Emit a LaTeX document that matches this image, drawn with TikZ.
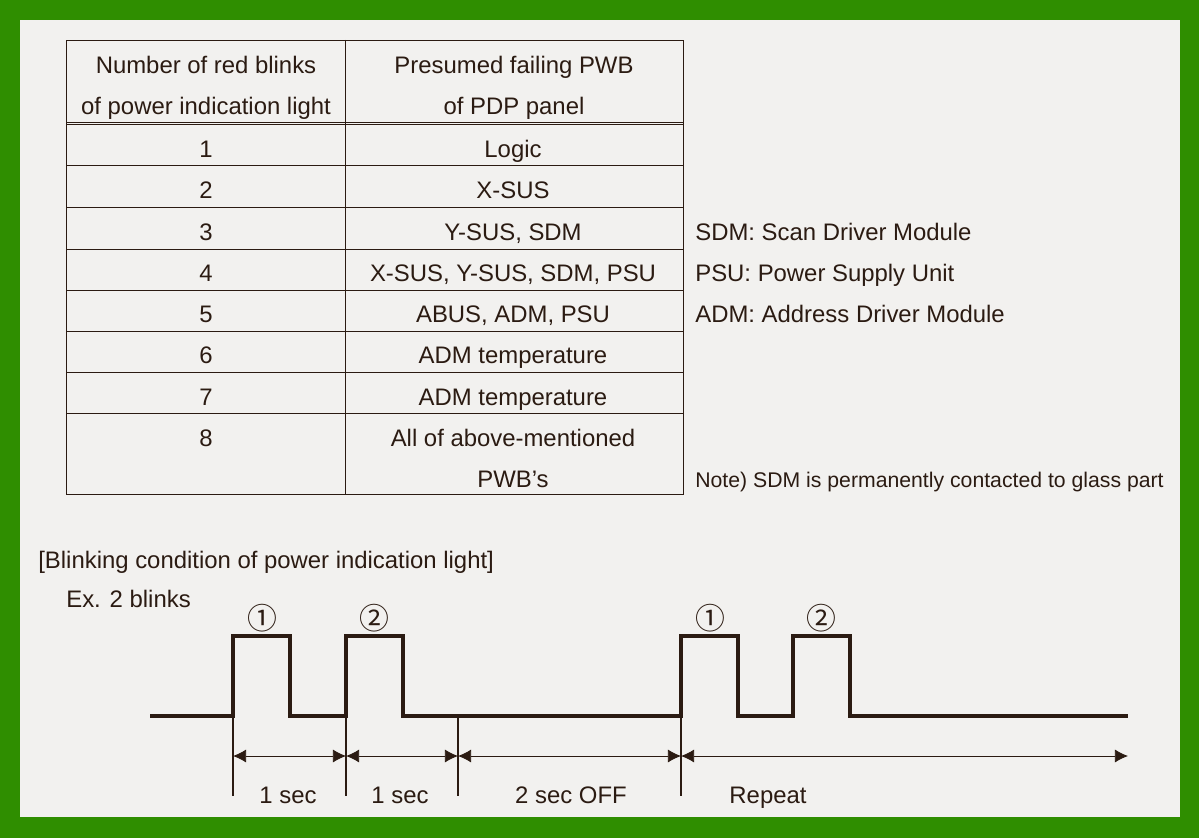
\documentclass[tikz,border=0pt]{standalone}
\usepackage{fontspec}
\setmainfont{Liberation Sans}
\newfontfamily\circfont{Noto Sans CJK JP}
\usetikzlibrary{arrows.meta}
\definecolor{framegreen}{HTML}{2F8E00}
\definecolor{panelgrey}{HTML}{F2F1EF}
\definecolor{inkbrown}{HTML}{2B1B12}
\tikzset{
	cell/.style={inner sep=0pt, anchor=base, text=inkbrown, font=\fontsize{13.6}{16}\selectfont},
	lefttext/.style={cell, anchor=base west},
	noteside/.style={lefttext, font=\fontsize{12.08}{14}\selectfont},
	rule/.style={draw=inkbrown, line width=0.55pt},
	wave/.style={draw=inkbrown, line width=2.1pt},
	tick/.style={draw=inkbrown, line width=0.7pt},
	span/.style={draw=inkbrown, line width=0.5pt, {Latex[length=7.5pt,width=7.5pt]}-{Latex[length=7.5pt,width=7.5pt]}},
	circnum/.style={cell, anchor=center, font=\circfont\fontsize{17}{19}\selectfont},
}
\begin{document}
\begin{tikzpicture}[x=0.02cm,y=-0.02cm]
	\useasboundingbox (0,0) rectangle (1199,838);
	\fill [framegreen] (0,0) rectangle (1199,838);
	\fill [panelgrey] (20,20) rectangle (1180,817);
	% table rules
	\draw [rule] (66,40) rectangle (683,494);
	\draw [rule] (345,40) to (345,494);
	\draw [rule] (66,122) to (683,122);
	\draw [rule] (66,124.5) to (683,124.5);
	\foreach \y in {165,207,249,290,331,372,413} {
		\draw [rule] (66,\y) to (683,\y);
	}
	% header
	\node[cell] at (206,73) {Number of red blinks};
	\node[cell] at (206,114) {of power indication light};
	\node[cell] at (514,73) {Presumed failing PWB};
	\node[cell] at (514,114) {of PDP panel};
	% rows
	\node[cell] at (206,157) {1};
	\node[cell] at (206,198) {2};
	\node[cell] at (206,240) {3};
	\node[cell] at (206,281) {4};
	\node[cell] at (206,322) {5};
	\node[cell] at (206,363) {6};
	\node[cell] at (206,405) {7};
	\node[cell] at (206,446) {8};
	\node[cell] at (513,157) {Logic};
	\node[cell] at (513,198) {X-SUS};
	\node[cell] at (513,240) {Y-SUS, SDM};
	\node[cell] at (513,281) {X-SUS, Y-SUS, SDM, PSU};
	\node[cell] at (513,322) {ABUS, ADM, PSU};
	\node[cell] at (513,363) {ADM temperature};
	\node[cell] at (513,405) {ADM temperature};
	\node[cell] at (513,446) {All of above-mentioned};
	\node[cell] at (513,487) {PWB’s};
	% side notes
	\node[lefttext] at (695,240) {SDM: Scan Driver Module};
	\node[lefttext] at (695,281) {PSU: Power Supply Unit};
	\node[lefttext] at (695,322) {ADM: Address Driver Module};
	\node[noteside] at (695,487) {Note) SDM is permanently contacted to glass part};
	% blink chart
	\node[lefttext] at (38,568) {[Blinking condition of power indication light]};
	\node[lefttext] at (66,607) {Ex. 2 blinks};
	\node[circnum] at (262,618) {①};
	\node[circnum] at (374,618) {②};
	\node[circnum] at (710,618) {①};
	\node[circnum] at (821,618) {②};
	\draw [wave] (150,716) -- (233,716) -- (233,636) -- (290,636) -- (290,716) -- (346,716) -- (346,636) -- (403,636) -- (403,716) -- (681,716) -- (681,636) -- (738,636) -- (738,716) -- (793,716) -- (793,636) -- (850,636) -- (850,716) -- (1128,716);
	\coordinate (t1) at (233,756);
	\coordinate (t2) at (346,756);
	\coordinate (t3) at (458,756);
	\coordinate (t4) at (681,756);
	\coordinate (tend) at (1128,756);
	\foreach \x in {233,346,458,681} {
		\draw [tick] (\x,716) to (\x,796);
	}
	\draw [span] (t1) to (t2);
	\draw [span] (t2) to (t3);
	\draw [span] (t3) to (t4);
	\draw [span] (t4) to (tend);
	\node[cell] at (288,803) {1 sec};
	\node[cell] at (400,803) {1 sec};
	\node[cell] at (571,803) {2 sec OFF};
	\node[cell] at (768,803) {Repeat};
\end{tikzpicture}
\end{document}
